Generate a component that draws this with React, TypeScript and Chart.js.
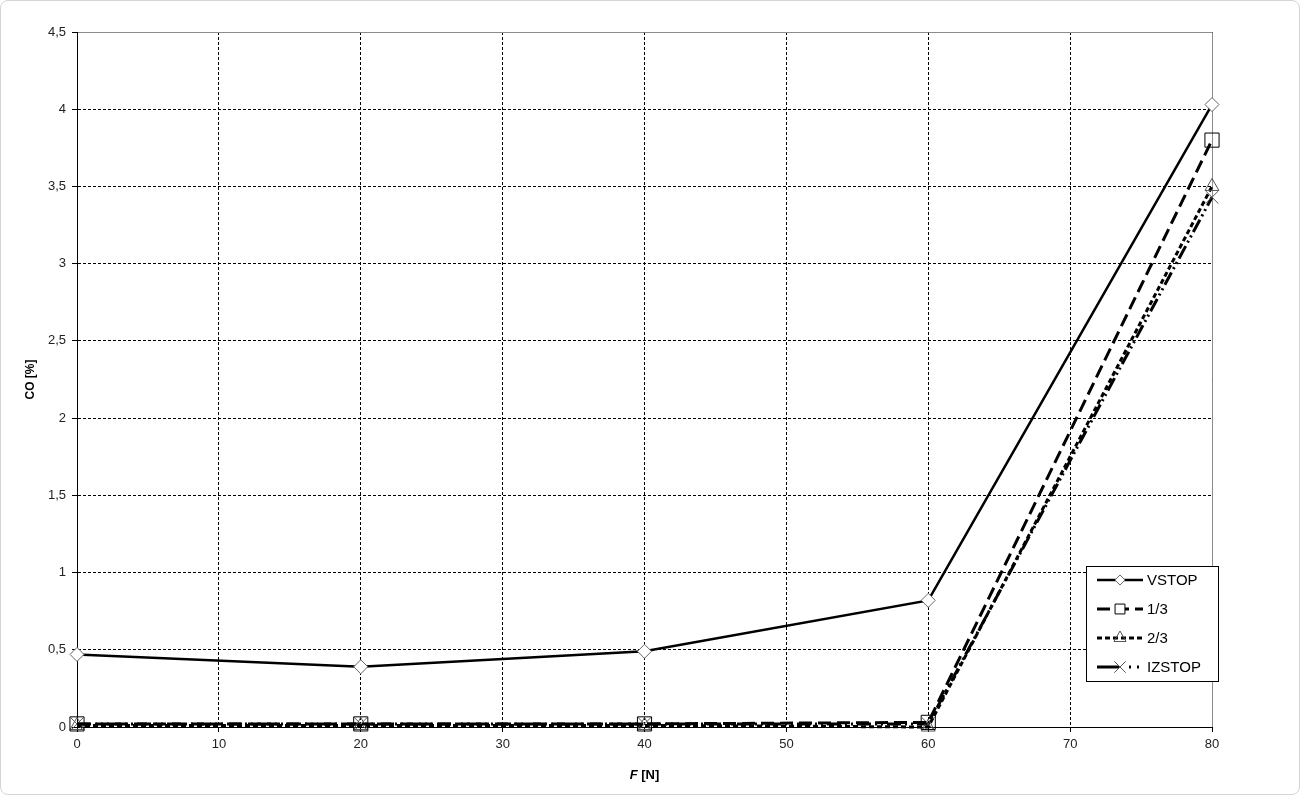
import React, { useEffect, useRef } from "react";
import { Chart, registerables } from "chart.js";
import { drawPoint } from "chart.js/helpers";

Chart.register(...registerables);

const forces = [0, 20, 40, 60, 80];
const vstop = [0.47, 0.39, 0.49, 0.82, 4.03];
const third1 = [0.02, 0.02, 0.02, 0.03, 3.8];
const third2 = [0.01, 0.01, 0.01, 0.0, 3.5];
const izstop = [0.02, 0.02, 0.02, 0.02, 3.43];
const seriesNames = ["VSTOP", "1/3", "2/3", "IZSTOP"];
const yTicks = [0, 0.5, 1, 1.5, 2, 2.5, 3, 3.5, 4, 4.5];
const xTicks = [0, 10, 20, 30, 40, 50, 60, 70, 80];

const FONT = "'Liberation Sans', Arial, sans-serif";

const frameAndTitles = {
  id: "frameAndTitles",
  beforeDatasetsDraw(chart: any) {
    const { ctx, chartArea } = chart;
    ctx.save();
    ctx.setLineDash([]);
    ctx.strokeStyle = "#8c8c8c";
    ctx.lineWidth = 1;
    ctx.beginPath();
    ctx.moveTo(chartArea.left, chartArea.top + 0.5);
    ctx.lineTo(chartArea.right + 0.5, chartArea.top + 0.5);
    ctx.lineTo(chartArea.right + 0.5, chartArea.bottom);
    ctx.stroke();
    ctx.strokeStyle = "#000";
    ctx.beginPath();
    ctx.moveTo(chartArea.left + 0.5, chartArea.top);
    ctx.lineTo(chartArea.left + 0.5, chartArea.bottom + 0.5);
    ctx.lineTo(chartArea.right + 0.5, chartArea.bottom + 0.5);
    ctx.stroke();
    ctx.restore();
  },
  afterDraw(chart: any) {
    const { ctx, chartArea } = chart;
    ctx.save();
    ctx.fillStyle = "#000";
    ctx.textBaseline = "middle";
    const cx = (chartArea.left + chartArea.right) / 2;
    ctx.font = "italic bold 13px " + FONT;
    const wF = ctx.measureText("F").width;
    ctx.font = "bold 13px " + FONT;
    const wRest = ctx.measureText(" [N]").width;
    const start = cx - (wF + wRest) / 2;
    ctx.textAlign = "left";
    ctx.font = "italic bold 13px " + FONT;
    ctx.fillText("F", start, 775);
    ctx.font = "bold 13px " + FONT;
    ctx.fillText(" [N]", start + wF, 775);
    ctx.font = "bold 12px " + FONT;
    ctx.translate(31, (chartArea.top + chartArea.bottom) / 2);
    ctx.rotate(-Math.PI / 2);
    ctx.textAlign = "center";
    ctx.fillText("CO [%]", 0, 0);
    ctx.restore();

    // legend
    ctx.save();
    const bx = 1086, by = 566, bw = 132, bh = 115;
    ctx.fillStyle = "#fff";
    ctx.fillRect(bx, by, bw, bh);
    ctx.strokeStyle = "#000";
    ctx.lineWidth = 1;
    ctx.setLineDash([]);
    ctx.strokeRect(bx + 0.5, by + 0.5, bw, bh);
    const rows = [580, 609, 638, 667];
    chart.data.datasets.forEach((ds: any, i: number) => {
      const y = rows[i];
      ctx.save();
      ctx.strokeStyle = ds.borderColor;
      ctx.lineWidth = ds.borderWidth;
      ctx.setLineDash(ds.legendDash || ds.borderDash || []);
      ctx.beginPath();
      ctx.moveTo(1097, y);
      ctx.lineTo(1143, y);
      ctx.stroke();
      ctx.restore();
      ctx.save();
      ctx.setLineDash([]);
      ctx.fillStyle = ds.legendFill || ds.pointBackgroundColor;
      ctx.strokeStyle = ds.pointBorderColor;
      ctx.lineWidth = 1;
      drawPoint(ctx, { pointStyle: ds.pointStyle, radius: ds.legendRadius, rotation: 0, borderWidth: 1 }, 1120, y);
      ctx.restore();
      ctx.fillStyle = "#000";
      ctx.font = "15px " + FONT;
      ctx.textAlign = "left";
      ctx.textBaseline = "middle";
      ctx.fillText(ds.label, 1147, y + 1);
    });
    ctx.restore();
  },
};

const gridOpts = {
  color: "#000",
  lineWidth: 1,
  tickLength: 5,
  tickColor: "#000",
  tickBorderDash: [],
} as any;

export default function App() {
  const ref = useRef<HTMLCanvasElement>(null);
  useEffect(() => {
    if (!ref.current) return;
    const mk = (vals: number[]) => vals.map((v, i) => ({ x: forces[i], y: v }));
    const chart = new Chart(ref.current, {
      type: "line",
      data: {
        datasets: [
          {
            label: seriesNames[0],
            data: mk(vstop),
            borderColor: "#000",
            borderWidth: 2.5,
            pointStyle: "rectRot",
            pointRadius: 7,
            legendRadius: 5,
            pointBackgroundColor: "#fff",
            pointBorderColor: "#666",
            pointBorderWidth: 1,
            clip: false,
          } as any,
          {
            label: seriesNames[1],
            data: mk(third1),
            borderColor: "#000",
            borderWidth: 3,
            borderDash: [13, 6],
            pointStyle: "rect",
            pointRadius: 10,
            legendRadius: 7,
            pointBackgroundColor: "rgba(255,255,255,0)",
            legendFill: "#fff",
            pointBorderColor: "#000",
            pointBorderWidth: 1,
            clip: false,
          } as any,
          {
            label: seriesNames[2],
            data: mk(third2),
            borderColor: "#000",
            borderWidth: 3,
            borderDash: [5, 3],
            pointStyle: "triangle",
            pointRadius: 8,
            legendRadius: 7,
            pointBackgroundColor: "rgba(255,255,255,0)",
            pointBorderColor: "#555",
            pointBorderWidth: 1,
            clip: false,
          } as any,
          {
            label: seriesNames[3],
            data: mk(izstop),
            borderColor: "#000",
            borderWidth: 3,
            borderDash: [14, 4, 2, 4, 2, 4],
            legendDash: [22, 10, 2, 6, 2, 6],
            pointStyle: "crossRot",
            pointRadius: 9,
            legendRadius: 8,
            pointBackgroundColor: "#fff",
            pointBorderColor: "#555",
            pointBorderWidth: 1,
            clip: false,
          } as any,
        ],
      },
      options: {
        responsive: false,
        animation: false,
        events: [],
        layout: { padding: { left: 0, right: 88, top: 32, bottom: 0 } },
        plugins: { legend: { display: false }, tooltip: { enabled: false } },
        scales: {
          x: {
            type: "linear",
            min: 0,
            max: 80,
            afterBuildTicks: (s: any) => {
              s.ticks = xTicks.map((v) => ({ value: v }));
            },
            afterFit: (s: any) => {
              s.height = 68;
            },
            ticks: {
              color: "#222",
              font: { family: FONT, size: 13 },
              padding: 5,
            },
            grid: gridOpts,
            border: { display: true, color: "#000", width: 1, dash: [3, 2] },
          },
          y: {
            type: "linear",
            min: 0,
            max: 4.5,
            afterBuildTicks: (s: any) => {
              s.ticks = yTicks.map((v) => ({ value: v }));
            },
            afterFit: (s: any) => {
              s.width = 77;
            },
            ticks: {
              color: "#222",
              font: { family: FONT, size: 13 },
              padding: 6,
              callback: (v: any) => String(v).replace(".", ","),
            },
            grid: gridOpts,
            border: { display: true, color: "#000", width: 1, dash: [3, 2] },
          },
        },
      },
      plugins: [frameAndTitles],
    });
    return () => chart.destroy();
  }, []);
  return (
    <div style={{ position: "absolute", left: 0, top: 0, width: 1300, height: 795, background: "#fff" }}>
      <canvas ref={ref} width={1300} height={795} style={{ display: "block" }} />
      <div
        style={{
          position: "absolute",
          left: 0,
          top: 0,
          width: 1298,
          height: 793,
          border: "1px solid #d4d4d4",
          borderRadius: 8,
          pointerEvents: "none",
        }}
      />
    </div>
  );
}
